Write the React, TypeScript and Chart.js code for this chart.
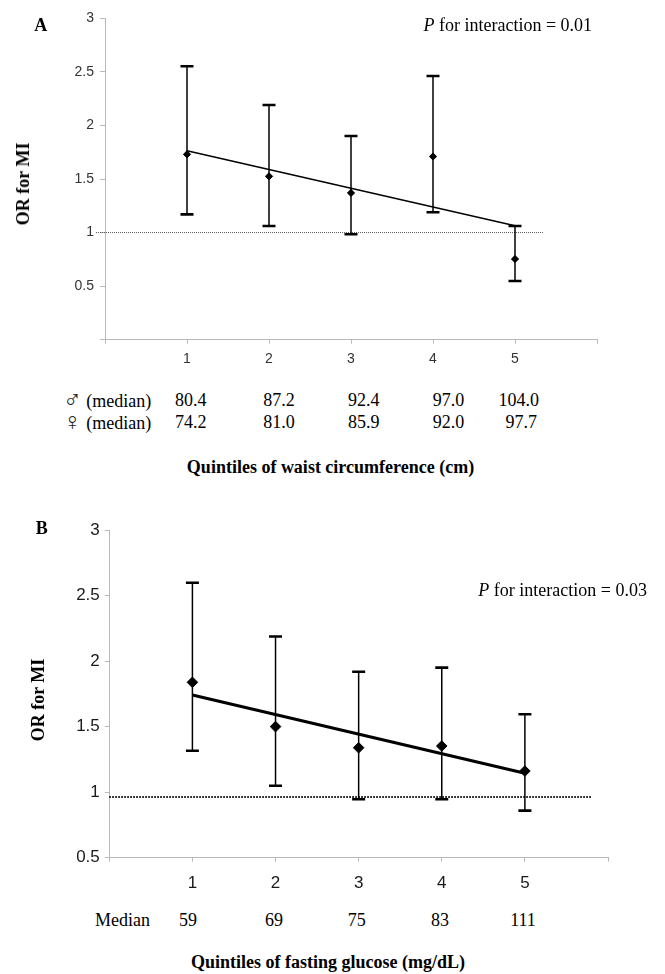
import React, { useEffect, useRef } from 'react';
import { Chart, registerables } from 'chart.js';

Chart.register(...registerables);

// ---------- data ----------
const quintiles = [1, 2, 3, 4, 5];

// Panel A: quintiles of waist circumference
const waistOR = [1.73, 1.525, 1.37, 1.71, 0.753];
const waistLower = [1.17, 1.061, 0.984, 1.189, 0.548];
const waistUpper = [2.552, 2.191, 1.901, 2.461, 1.061];
const waistTrend = [1.764, 1.064]; // fitted line at quintile 1 and 5
const waistRefLine = [1, 1];
const waistRefSpan = [-0.11, 5.34];
const waistYTicks = [0, 0.5, 1, 1.5, 2, 2.5, 3];
const maleMedians = ['80.4', '87.2', '92.4', '97.0', '104.0'];
const femaleMedians = ['74.2', '81.0', '85.9', '92.0', '97.7'];

// Panel B: quintiles of fasting glucose
const glucoseOR = [1.838, 1.5, 1.339, 1.352, 1.161];
const glucoseLower = [1.316, 1.049, 0.946, 0.946, 0.859];
const glucoseUpper = [2.598, 2.187, 1.919, 1.95, 1.594];
const glucoseTrend = [1.741, 1.144];
const glucoseRefLine = [0.963, 0.963];
const glucoseRefSpan = [0, 5.81];
const glucoseYTicks = [0.5, 1, 1.5, 2, 2.5, 3];
const glucoseMedians = ['59', '69', '75', '83', '111'];

const xTickLabels = ['', '1', '2', '3', '4', '5', ''];

// ---------- chart builder ----------
type PanelOpts = {
  or: number[];
  lower: number[];
  upper: number[];
  trend: number[];
  ref: number[];
  refSpan: number[];
  yTicks: number[];
  yMin: number;
  yMax: number;
  showZeroLabel: boolean;
  yWidth: number;
  xHeight: number;
  padTop: number;
  padRight: number;
  tickFont: number;
  tickFamily: string;
  tickColor: string;
  xPad: number;
  yPad: number;
  yTickLen: number;
  markerR: number;
  trendW: number;
  refW: number;
  refColor: string;
  refDash: number[];
};

function buildConfig(o: PanelOpts): any {
  const whiskers: any[] = [];
  const caps: any[] = [];
  quintiles.forEach((q, i) => {
    whiskers.push({ x: q, y: o.lower[i] }, { x: q, y: o.upper[i] }, { x: q, y: null });
    caps.push({ x: q, y: o.lower[i] }, { x: q, y: o.upper[i] });
  });
  const markers = quintiles.map((q, i) => ({ x: q, y: o.or[i] }));
  const trend = [
    { x: quintiles[0], y: o.trend[0] },
    { x: quintiles[quintiles.length - 1], y: o.trend[1] },
  ];
  const ref = [
    { x: o.refSpan[0], y: o.ref[0] },
    { x: o.refSpan[1], y: o.ref[1] },
  ];
  const axisColor = '#b9b9b9';
  return {
    type: 'scatter',
    data: {
      datasets: [
        {
          label: 'OR',
          data: markers,
          pointStyle: 'rectRot',
          pointRadius: o.markerR,
          pointBackgroundColor: '#000',
          pointBorderColor: '#000',
          pointBorderWidth: 1,
          showLine: false,
        },
        {
          label: 'trend',
          data: trend,
          showLine: true,
          borderColor: '#000',
          borderWidth: o.trendW,
          pointRadius: 0,
        },
        {
          label: 'caps',
          data: caps,
          pointStyle: 'line',
          pointRadius: 6.5,
          pointBorderWidth: 2.6,
          pointBorderColor: '#000',
          showLine: false,
        },
        {
          label: 'CI',
          data: whiskers,
          showLine: true,
          spanGaps: false,
          borderColor: '#000',
          borderWidth: 1.5,
          pointRadius: 0,
        },
        {
          label: 'reference',
          data: ref,
          showLine: true,
          borderColor: o.refColor,
          borderWidth: o.refW,
          borderDash: o.refDash,
          pointRadius: 0,
          clip: false,
        },
      ],
    },
    options: {
      animation: false,
      responsive: true,
      maintainAspectRatio: false,
      events: [],
      layout: { padding: { top: o.padTop, right: o.padRight, left: 0, bottom: 0 } },
      plugins: { legend: { display: false }, tooltip: { enabled: false } },
      scales: {
        x: {
          type: 'linear',
          min: 0,
          max: 6,
          afterBuildTicks: (s: any) => {
            s.ticks = xTickLabels.map((_, i) => ({ value: i }));
          },
          ticks: {
            autoSkip: false,
            maxRotation: 0,
            callback: (v: any) => xTickLabels[Math.round(Number(v))] ?? '',
            font: { family: o.tickFamily, size: o.tickFont },
            color: o.tickColor,
            padding: o.xPad,
          },
          grid: { drawOnChartArea: false, drawTicks: true, tickLength: 4, color: axisColor },
          border: { display: true, color: axisColor, width: 1 },
          afterFit: (s: any) => {
            s.height = o.xHeight;
          },
        },
        y: {
          type: 'linear',
          min: o.yMin,
          max: o.yMax,
          afterBuildTicks: (s: any) => {
            s.ticks = o.yTicks.map((v) => ({ value: v }));
          },
          ticks: {
            autoSkip: false,
            callback: (v: any) => (Number(v) === 0 && !o.showZeroLabel ? '' : String(v)),
            font: { family: o.tickFamily, size: o.tickFont },
            color: o.tickColor,
            padding: o.yPad,
          },
          grid: { drawOnChartArea: false, drawTicks: true, tickLength: o.yTickLen, color: axisColor },
          border: { display: true, color: axisColor, width: 1 },
          afterFit: (s: any) => {
            s.width = o.yWidth;
          },
        },
      },
    },
  };
}

function Panel({ cfg, style }: { cfg: any; style: React.CSSProperties }) {
  const ref = useRef<HTMLCanvasElement | null>(null);
  useEffect(() => {
    if (!ref.current) return;
    const chart = new Chart(ref.current, cfg);
    return () => chart.destroy();
  }, [cfg]);
  return (
    <div style={{ position: 'absolute', ...style }}>
      <canvas ref={ref} />
    </div>
  );
}

const serif = "'Liberation Serif', 'Times New Roman', serif";

function Txt({
  x,
  y,
  children,
  bold,
  anchor = 'center',
  rotate,
}: {
  x: number;
  y: number;
  children: React.ReactNode;
  bold?: boolean;
  anchor?: 'left' | 'center' | 'right';
  rotate?: boolean;
}) {
  const tx = anchor === 'left' ? '0' : anchor === 'right' ? '-100%' : '-50%';
  return (
    <div
      style={{
        position: 'absolute',
        left: x,
        top: y,
        transform: `translate(${tx}, -50%)${rotate ? ' rotate(-90deg)' : ''}`,
        fontFamily: serif,
        fontSize: 18,
        fontWeight: bold ? 'bold' : 'normal',
        lineHeight: 1,
        whiteSpace: 'nowrap',
        color: '#000',
      }}
    >
      {children}
    </div>
  );
}

const Sym = ({ c }: { c: string }) => (
  <span
    style={{
      fontFamily: "'DejaVu Sans', sans-serif",
      fontSize: 25,
      lineHeight: '18px',
      fontWeight: 200,
      color: '#222',
      verticalAlign: '-1px',
    }}
  >
    {c}
  </span>
);

const cfgA = buildConfig({
  or: waistOR,
  lower: waistLower,
  upper: waistUpper,
  trend: waistTrend,
  ref: waistRefLine,
  refSpan: waistRefSpan,
  yTicks: waistYTicks,
  yMin: 0,
  yMax: 3,
  showZeroLabel: false,
  yWidth: 105,
  xHeight: 40.3,
  padTop: 18.3,
  padRight: 68,
  tickFont: 14,
  tickFamily: "'Liberation Sans', Arial, sans-serif",
  tickColor: '#333',
  xPad: 7,
  yPad: 6,
  yTickLen: 5,
  markerR: 3.6,
  trendW: 1.4,
  refW: 1,
  refColor: '#555',
  refDash: [1, 1],
});

const cfgB = buildConfig({
  or: glucoseOR,
  lower: glucoseLower,
  upper: glucoseUpper,
  trend: glucoseTrend,
  ref: glucoseRefLine,
  refSpan: glucoseRefSpan,
  yTicks: glucoseYTicks,
  yMin: 0.5,
  yMax: 3,
  showZeroLabel: true,
  yWidth: 109.3,
  xHeight: 42.3,
  padTop: 30,
  padRight: 57,
  tickFont: 17,
  tickFamily: "'Liberation Sans', Arial, sans-serif",
  tickColor: '#1a1a1a',
  xPad: 11,
  yPad: 5,
  yTickLen: 4.5,
  markerR: 5.3,
  trendW: 3,
  refW: 2,
  refColor: '#000',
  refDash: [1.5, 1.5],
});

const maleX = [175, 263.3, 348, 432.7];
const femaleX = [175, 263.3, 348, 432.7];
const glucoseX = [188, 274, 356.7, 440, 523];

export default function App() {
  return (
    <div
      style={{
        position: 'absolute',
        left: 0,
        top: 0,
        width: 665,
        height: 974,
        overflow: 'hidden',
        background: '#fff',
      }}
    >
      <Panel cfg={cfgA} style={{ left: 0, top: 0, width: 665, height: 380 }} />
      <Panel cfg={cfgB} style={{ left: 0, top: 500, width: 665, height: 400 }} />

      {/* Panel A texts */}
      <Txt x={40.7} y={25} bold>A</Txt>
      <Txt x={423.5} y={25} anchor="left">
        <i>P</i> for interaction = 0.01
      </Txt>
      <Txt x={22.5} y={183.7} bold rotate>OR for MI</Txt>
      <Txt x={63} y={400} anchor="left"><Sym c="♂" /> (median)</Txt>
      <Txt x={63} y={422.3} anchor="left"><Sym c="♀" /> (median)</Txt>
      {maleMedians.map((m, i) =>
        i < 4 ? (
          <Txt key={'m' + i} x={maleX[i]} y={400} anchor="left">{m}</Txt>
        ) : (
          <Txt key={'m' + i} x={539} y={400} anchor="right">{m}</Txt>
        )
      )}
      {femaleMedians.map((m, i) =>
        i < 4 ? (
          <Txt key={'f' + i} x={femaleX[i]} y={422.3} anchor="left">{m}</Txt>
        ) : (
          <Txt key={'f' + i} x={537} y={422.3} anchor="right">{m}</Txt>
        )
      )}
      <Txt x={330.5} y={466.7} bold>Quintiles of waist circumference (cm)</Txt>

      {/* Panel B texts */}
      <Txt x={41.7} y={527.7} bold>B</Txt>
      <Txt x={478.3} y={590} anchor="left">
        <i>P</i> for interaction = 0.03
      </Txt>
      <Txt x={37.5} y={700} bold rotate>OR for MI</Txt>
      <Txt x={95} y={920} anchor="left">Median</Txt>
      {glucoseMedians.map((m, i) => (
        <Txt key={'g' + i} x={glucoseX[i]} y={920}>{m}</Txt>
      ))}
      <Txt x={328} y={962} bold>Quintiles of fasting glucose (mg/dL)</Txt>
    </div>
  );
}
